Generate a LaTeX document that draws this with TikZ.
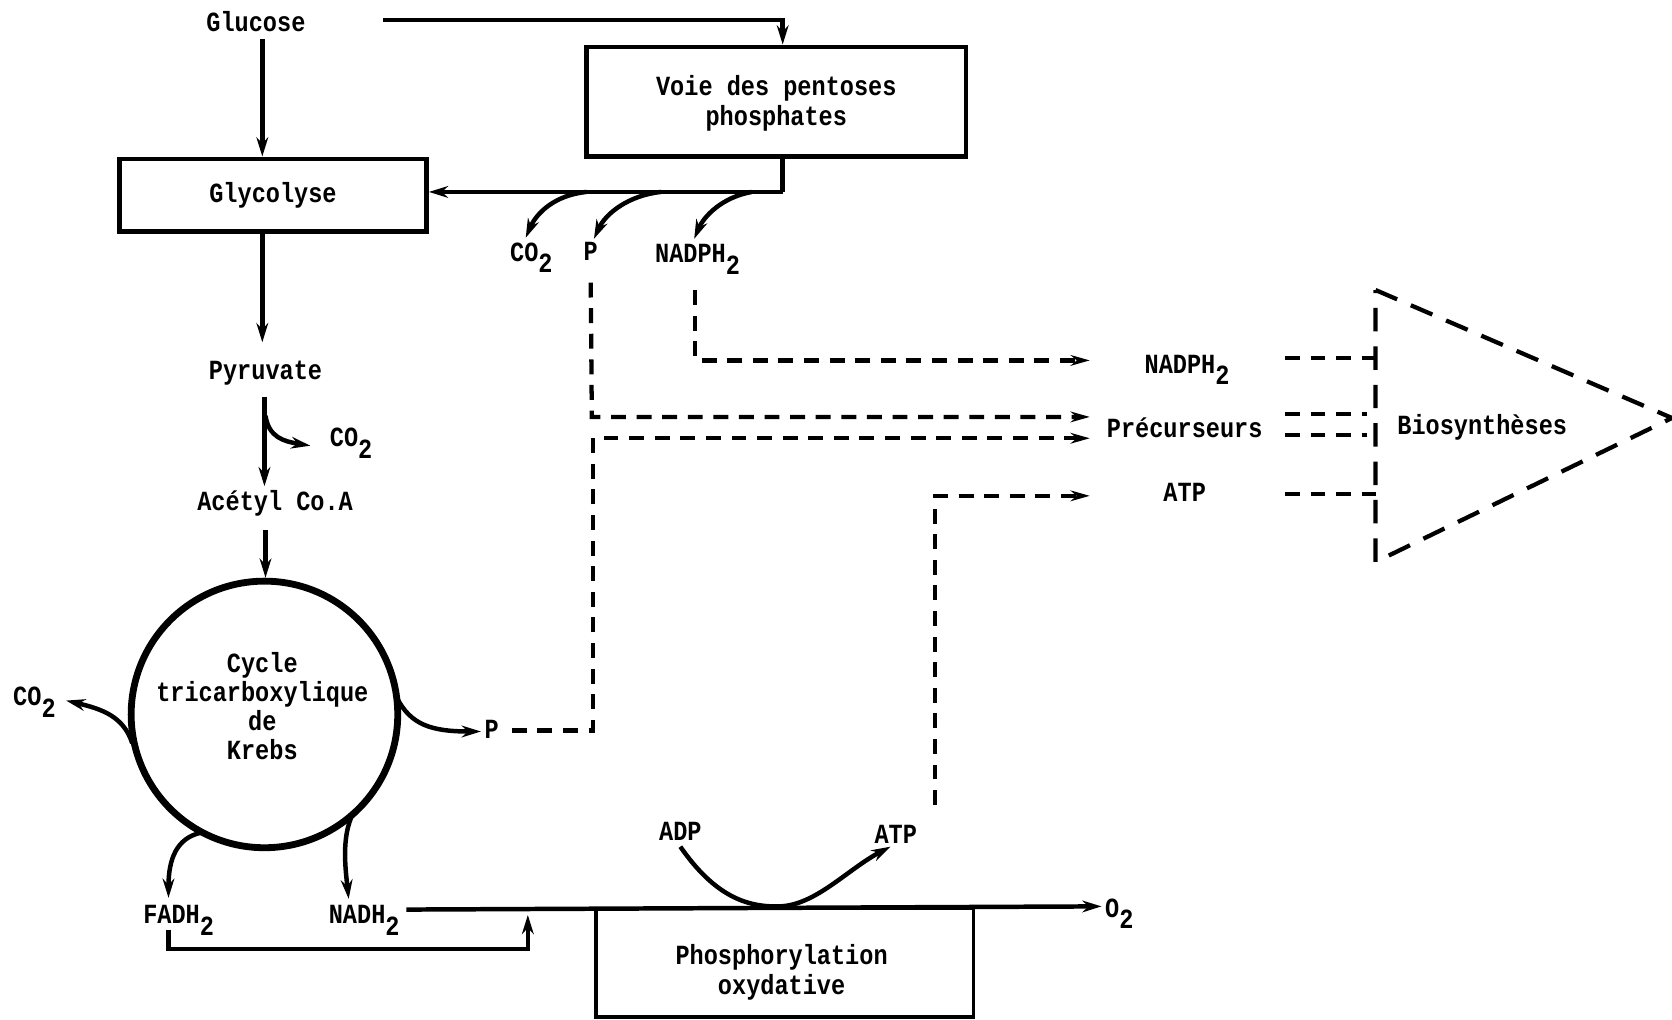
\documentclass[tikz,border=0pt]{standalone}
\usepackage{fontspec}
\setmonofont[FakeStretch=0.85]{Liberation Mono}
\usetikzlibrary{arrows.meta,shapes.geometric}
\newcommand\lowr[1]{\raisebox{-0.8ex}{#1}}
\begin{document}
\begin{tikzpicture}[x=0.5pt,y=-0.5pt,
  font=\ttfamily\bfseries\fontsize{13}{14}\selectfont,
  box/.style={draw,line width=2.2pt,inner sep=0pt},
  lbl/.style={inner sep=0pt,align=center},
  lbb/.style={inner sep=0pt,anchor=base west},
  arr/.style={line width=2.1pt,-{Stealth[length=9pt,width=5.5pt]}},
  dsh/.style={line width=2pt,dash pattern=on 7pt off 5pt},
  darr/.style={dsh,-{Stealth[length=9pt,width=5pt]}},
  lw/.style={font=\ttfamily\bfseries\fontsize{13}{13.5}\selectfont}]
\useasboundingbox (0,0) rectangle (1568,956);

% nodes
\node[lbl] (gluc) at (240,20) {Glucose};
\node[box,minimum width=178pt,minimum height=51.5pt] (ppp) at (728,95.5) {};
\node[lbl] (ppptxt) at (728,97) {Voie des pentoses\\phosphates};
\node[box,minimum width=144pt,minimum height=34pt] (glyco) at (256,183) {Glycolyse};
\node[lbb] (co2a) at (478,245) {CO\lowr{2}};
\node[lbb] (pa) at (547,244) {P};
\node[lbb] (nadpha) at (614,246) {NADPH\lowr{2}};
\node[lbl] (pyr) at (249,350) {Pyruvate};
\node[lbb] (co2b) at (309,419) {CO\lowr{2}};
\node[lbl] (acoa) at (258,472) {Acétyl Co.A};
\node[draw,circle,line width=3.2pt,minimum size=125pt,inner sep=0pt] (krebs) at (248,670) {};
\node[lbl,lw] (krebstxt) at (246,662) {Cycle\\tricarboxylique\\de\\Krebs};
\node[lbb] (co2c) at (12,662) {CO\lowr{2}};
\node[lbb] (pb) at (454,693) {P};
\node[lbb] (fadh) at (134,866) {FADH\lowr{2}};
\node[lbb] (nadh) at (308,866) {NADH\lowr{2}};
\node[lbb] (o2) at (1036,860) {O\lowr{2}};
\node[lbl] (adp) at (638,780) {ADP};
\node[lbl] (atpb) at (840,782) {ATP};
\node[box,line width=1.7pt,minimum width=177pt,minimum height=51pt] (phos) at (736,903) {};
\node[lbl] (phostxt) at (733,912) {Phosphorylation\\oxydative};
\node[lbb] (nadphr) at (1073,350) {NADPH\lowr{2}};
\node[lbl,lw] (prec) at (1111,401) {Précurseurs};
\node[lbl] (atpr) at (1111,462) {ATP};
\node[lbl,lw] (bios) at (1390,401) {Biosynthèses};

% coordinates
\coordinate (t1) at (1290,272);
\coordinate (t2) at (1568,392);
\coordinate (t3) at (1290,527);
\coordinate (g1) at (246,37);
\coordinate (pp1) at (734,180);
\coordinate (ac1) at (249,497);

% solid connectors
\draw[arr] (359,19) -- (734,19) -- ([xshift=3pt]ppp.north);
\draw[arr] (g1) -- (g1|-glyco.north);
\draw[line width=2.1pt] (734,147) -- (pp1);
\draw[arr] (pp1) -- (glyco.east|-pp1);
\draw[arr] (550,180) .. controls (520,183) and (503,200) .. (493,223);
\draw[arr] (620,180) .. controls (590,183) and (568,200) .. (557,224);
\draw[arr] (705,180) .. controls (677,185) and (660,203) .. (651,224);
\draw[arr] (246,217) -- (246,321);
\draw[arr] (248,372) -- (248,456);
\draw[arr] (249,390) .. controls (252,410) and (266,414) .. (291,418);
\draw[arr] (ac1) -- (ac1|-krebs.north);
\draw[arr] (124,697) .. controls (116,672) and (96,665) .. (62,657);
\draw[arr] (372,654) .. controls (385,680) and (405,686) .. (451,686);
\draw[arr] (188,781) .. controls (166,786) and (158,805) .. (158,842);
\draw[arr] (331,763) .. controls (320,785) and (324,815) .. (327,843);
\draw[arr] (381,853) -- (1033,850);
\draw[arr] (158,872) -- (158,890) -- (495,890) -- (495,858);
\draw[arr] (638,794) .. controls (670,840) and (700,851) .. (731,850)
  .. controls (765,849) and (795,815) .. (835,794);

% dashed connectors
\draw[darr] (652,272) -- (652,338) -- (1022,338);
\draw[darr] (554,265) -- (555,391) -- (1022,391);
\draw[darr] (480,685) -| (556,411) -- (1022,411);
\draw[darr] (877,755) -- (877,465) -- (1022,465);
\draw[dsh] (1205,336) -- (1290,336);
\draw[dsh] (1205,388) -- (1282,388);
\draw[dsh] (1205,408) -- (1282,408);
\draw[dsh] (1205,463) -- (1290,463);
\draw[line width=2pt,dash pattern=on 11pt off 7pt] (t1) -- (t2) -- (t3) -- cycle;
\end{tikzpicture}
\end{document}
